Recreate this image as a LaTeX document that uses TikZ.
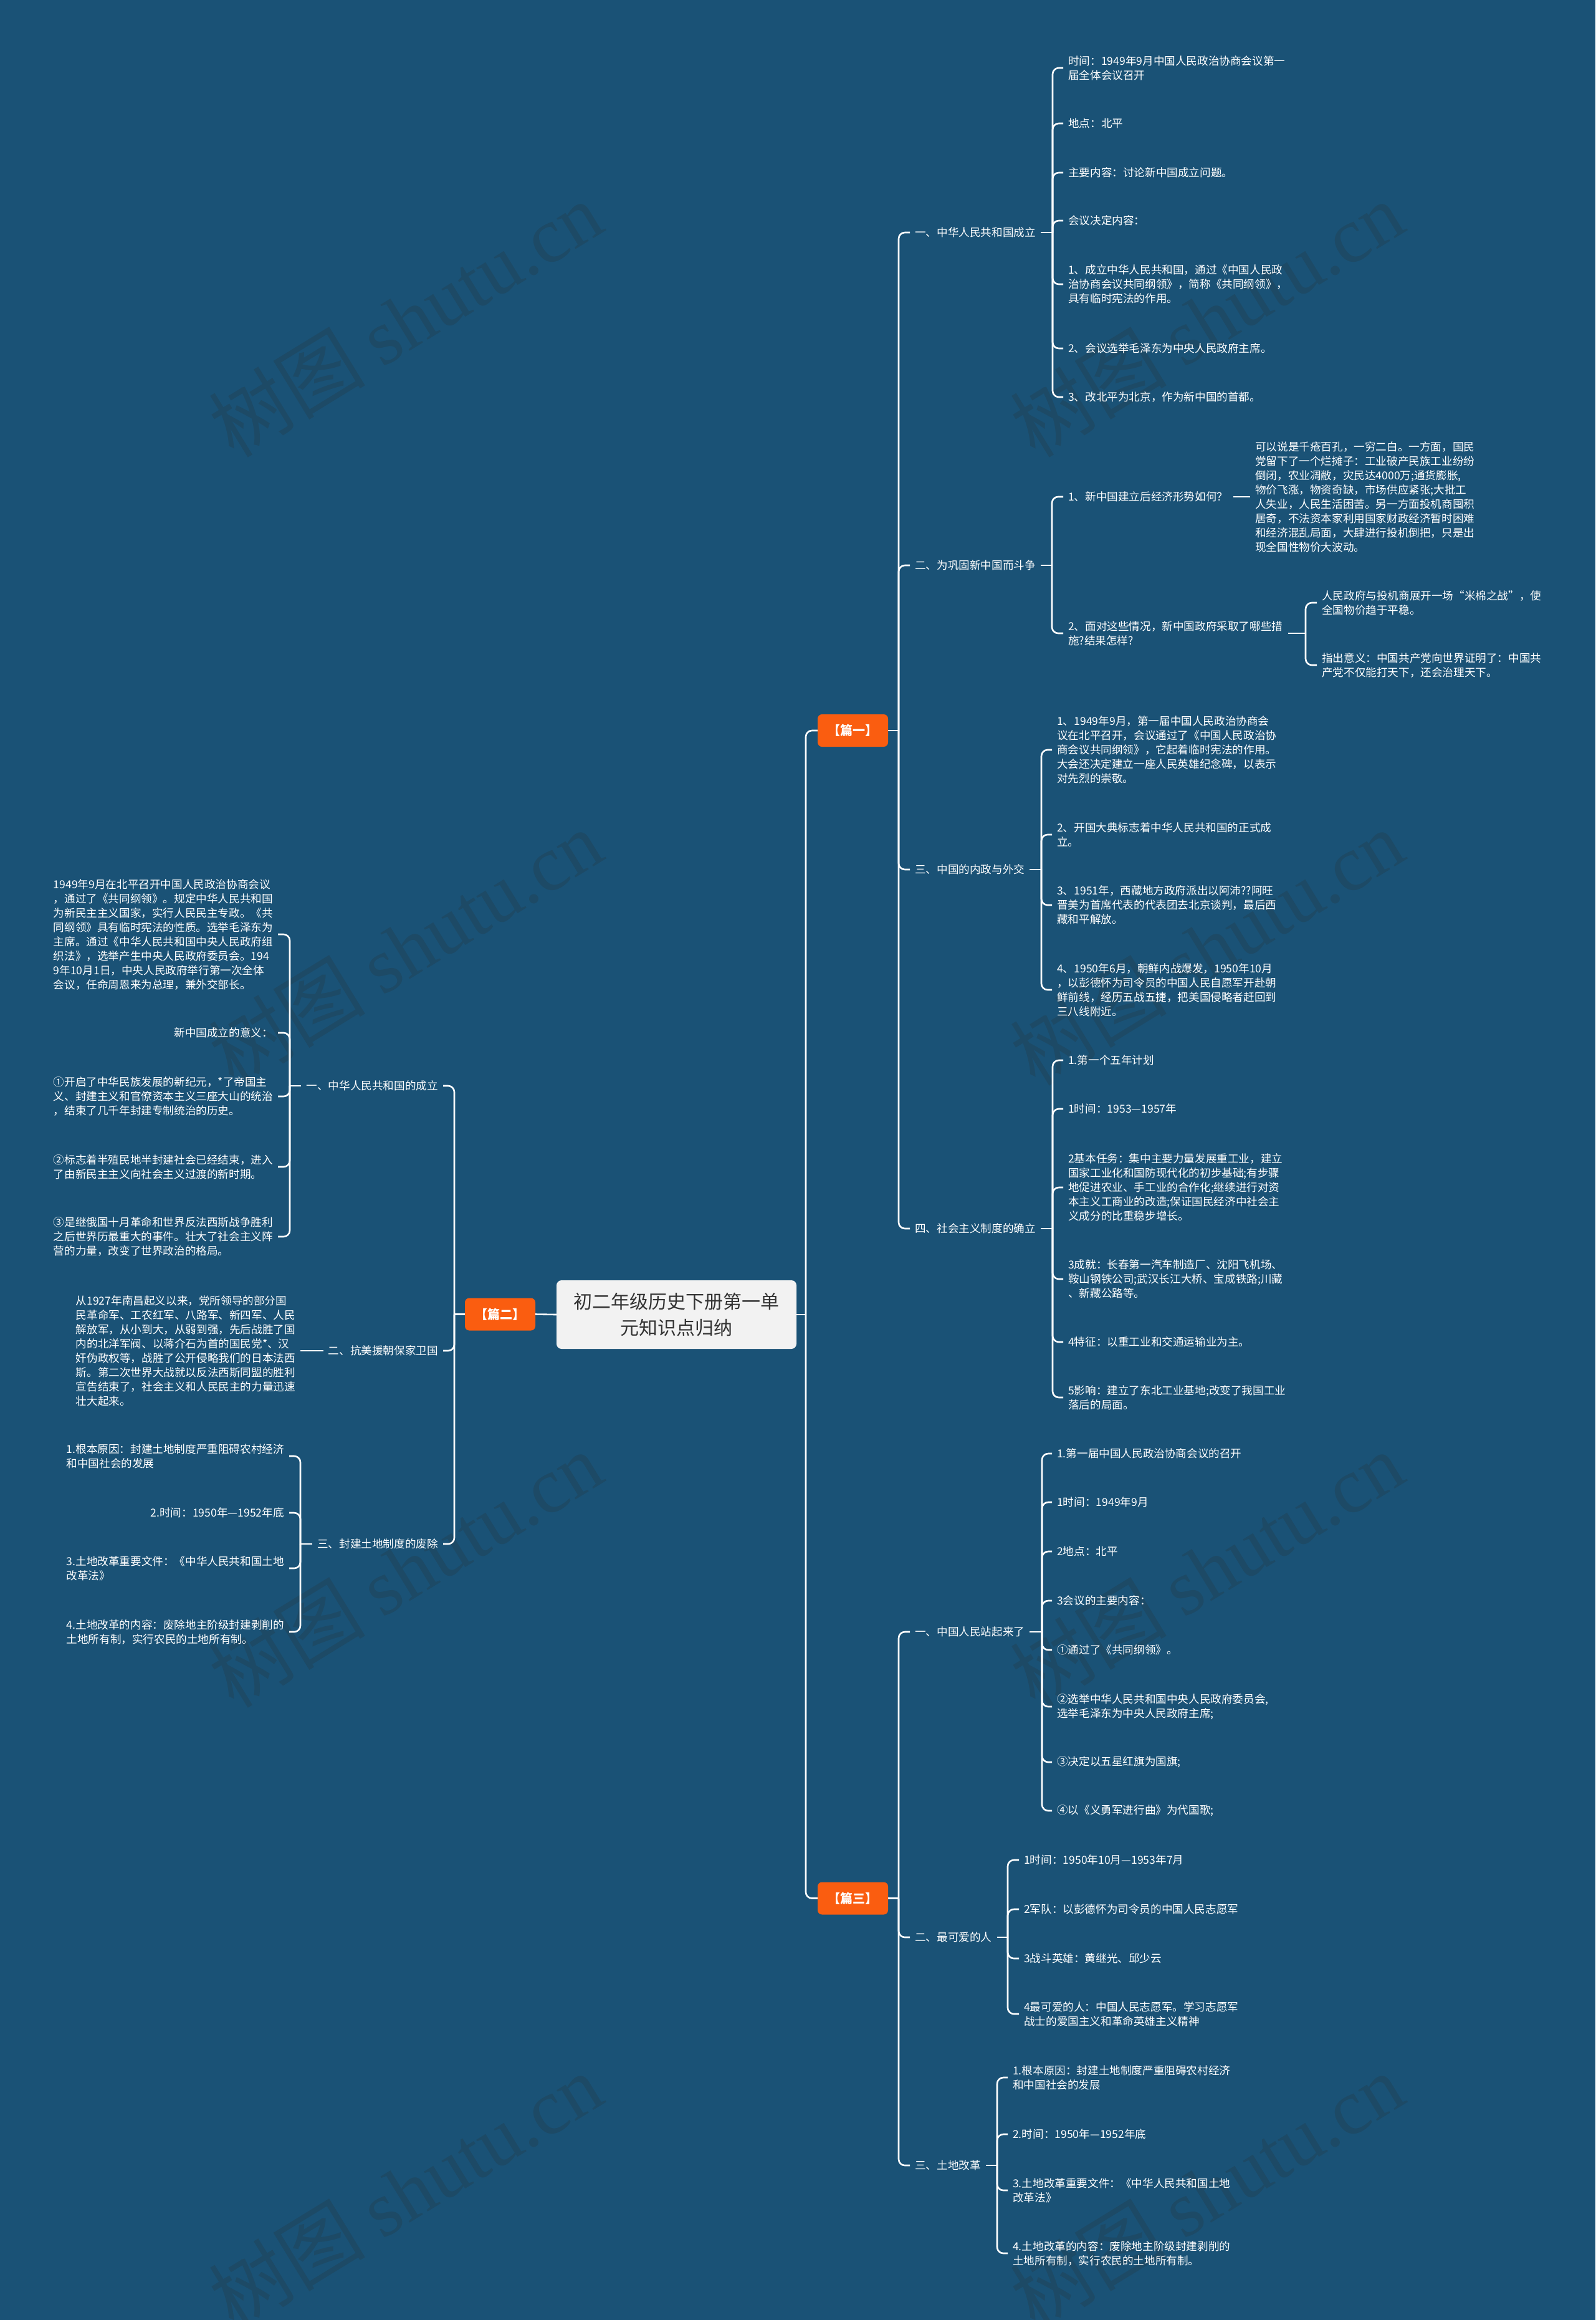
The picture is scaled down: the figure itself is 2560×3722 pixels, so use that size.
\documentclass[tikz,border=0pt]{standalone}
\usepackage{fontspec}
\setmainfont{Noto Sans CJK SC}
\newfontfamily\wmserif{Liberation Serif}
\definecolor{bgc}{HTML}{1A5276}
\definecolor{orgc}{HTML}{FA5D10}
\definecolor{ttlfill}{HTML}{F2F2F2}
\definecolor{ttltext}{HTML}{333333}
\definecolor{wmcol}{HTML}{1D4A66}
\newcommand\rbr[3]{%
  \coordinate (bxc) at (#2,0);
  \draw[conn] (#1.east) -- (#1.east -| bxc);
  \foreach \c in {#3} {\draw[conn] (#1.east -| bxc) |- (\c.west);}
}
\newcommand\lbr[3]{%
  \coordinate (bxc) at (#2,0);
  \draw[conn] (#1.west) -- (#1.west -| bxc);
  \foreach \c in {#3} {\draw[conn] (#1.west -| bxc) |- (\c.east);}
}
\tikzset{
  conn/.style={draw=white, line width=2.6pt, rounded corners=10pt},
  txt/.style={text=white, font=\fontsize{17.6}{23}\selectfont, align=left, inner xsep=8pt, inner ysep=2pt},
  rt/.style={txt, anchor=west},
  lt/.style={txt, anchor=east},
  pian/.style={fill=orgc, rounded corners=7pt, minimum width=113pt, minimum height=52pt, text=white, font=\fontsize{20}{24}\selectfont\bfseries, inner sep=0pt},
  ttl/.style={fill=ttlfill, rounded corners=8pt, minimum width=385pt, minimum height=110pt, text=ttltext, font=\fontsize{30}{42}\selectfont, align=center, inner sep=0pt},
  wm/.style={text=wmcol, rotate=31.5, font=\fontsize{126}{130}\selectfont}
}
\begin{document}
\begin{tikzpicture}[x=1pt,y=-1pt]
\useasboundingbox (0,0) rectangle (2560,3722);
\fill[bgc] (0,0) rectangle (2560,3722);
% watermarks
\foreach \wx in {650,1936} {
  \foreach \wy in {512,1520,2518,3515} {
    \node[wm] (wm) at (\wx,\wy) {树图 {\wmserif shutu.cn}};
  }
}
% central and section boxes
\node[ttl] (T) at (1085.5,2109) {初二年级历史下册第一单\\元知识点归纳};
\node[pian] (P1) at (1368.5,1172) {【篇一】};
\node[pian] (P2) at (802.5,2108.5) {【篇二】};
\node[pian] (P3) at (1368.5,3045.5) {【篇三】};

% ---------- 篇一 ----------
\node[rt] (s11) at (1460,373) {一、中华人民共和国成立};
\node[rt] (s12) at (1460,907) {二、为巩固新中国而斗争};
\node[rt] (s13) at (1460,1395) {三、中国的内政与外交};
\node[rt] (s14) at (1460,1971) {四、社会主义制度的确立};

\node[rt] (c111) at (1706,109) {时间：1949年9月中国人民政治协商会议第一\\届全体会议召开};
\node[rt] (c112) at (1706,198) {地点：北平};
\node[rt] (c113) at (1706,277) {主要内容：讨论新中国成立问题。};
\node[rt] (c114) at (1706,354) {会议决定内容：};
\node[rt] (c115) at (1706,456) {1、成立中华人民共和国，通过《中国人民政\\治协商会议共同纲领》，简称《共同纲领》，\\具有临时宪法的作用。};
\node[rt] (c116) at (1706,559) {2、会议选举毛泽东为中央人民政府主席。};
\node[rt] (c117) at (1706,637) {3、改北平为北京，作为新中国的首都。};

\node[rt] (c121) at (1706,797) {1、新中国建立后经济形势如何？};
\node[rt] (c1211) at (2006,797) {可以说是千疮百孔，一穷二白。一方面，国民\\党留下了一个烂摊子：工业破产民族工业纷纷\\倒闭，农业凋敝，灾民达4000万;通货膨胀,\\物价飞涨，物资奇缺，市场供应紧张;大批工\\人失业，人民生活困苦。另一方面投机商囤积\\居奇，不法资本家利用国家财政经济暂时困难\\和经济混乱局面，大肆进行投机倒把，只是出\\现全国性物价大波动。};
\node[rt] (c122) at (1706,1016) {2、面对这些情况，新中国政府采取了哪些措\\施?结果怎样?};
\node[rt] (c1221) at (2113,967) {人民政府与投机商展开一场“米棉之战”，使\\全国物价趋于平稳。};
\node[rt] (c1222) at (2113,1067) {指出意义：中国共产党向世界证明了：中国共\\产党不仅能打天下，还会治理天下。};

\node[rt] (c131) at (1688,1203) {1、1949年9月，第一届中国人民政治协商会\\议在北平召开，会议通过了《中国人民政治协\\商会议共同纲领》，它起着临时宪法的作用。\\大会还决定建立一座人民英雄纪念碑，以表示\\对先烈的崇敬。};
\node[rt] (c132) at (1688,1339) {2、开国大典标志着中华人民共和国的正式成\\立。};
\node[rt] (c133) at (1688,1452) {3、1951年，西藏地方政府派出以阿沛??阿旺\\晋美为首席代表的代表团去北京谈判，最后西\\藏和平解放。};
\node[rt] (c134) at (1688,1588) {4、1950年6月，朝鲜内战爆发，1950年10月\\，以彭德怀为司令员的中国人民自愿军开赴朝\\鲜前线，经历五战五捷，把美国侵略者赶回到\\三八线附近。};

\node[rt] (c141) at (1706,1701) {1.第一个五年计划};
\node[rt] (c142) at (1706,1779) {1时间：1953—1957年};
\node[rt] (c143) at (1706,1905) {2基本任务：集中主要力量发展重工业，建立\\国家工业化和国防现代化的初步基础;有步骤\\地促进农业、手工业的合作化;继续进行对资\\本主义工商业的改造;保证国民经济中社会主\\义成分的比重稳步增长。};
\node[rt] (c144) at (1706,2052) {3成就：长春第一汽车制造厂、沈阳飞机场、\\鞍山钢铁公司;武汉长江大桥、宝成铁路;川藏\\、新藏公路等。};
\node[rt] (c145) at (1706,2153) {4特征：以重工业和交通运输业为主。};
\node[rt] (c146) at (1706,2242) {5影响：建立了东北工业基地;改变了我国工业\\落后的局面。};

% ---------- 篇三 ----------
\node[rt] (s31) at (1460,2618) {一、中国人民站起来了};
\node[rt] (s32) at (1460,3108) {二、最可爱的人};
\node[rt] (s33) at (1460,3474) {三、土地改革};

\node[rt] (c311) at (1688,2332) {1.第一届中国人民政治协商会议的召开};
\node[rt] (c312) at (1688,2410) {1时间：1949年9月};
\node[rt] (c313) at (1688,2489) {2地点：北平};
\node[rt] (c314) at (1688,2568) {3会议的主要内容：};
\node[rt] (c315) at (1688,2647) {①通过了《共同纲领》。};
\node[rt] (c316) at (1688,2738) {②选举中华人民共和国中央人民政府委员会,\\选举毛泽东为中央人民政府主席;};
\node[rt] (c317) at (1688,2827) {③决定以五星红旗为国旗;};
\node[rt] (c318) at (1688,2905) {④以《义勇军进行曲》为代国歌;};

\node[rt] (c321) at (1635,2984) {1时间：1950年10月—1953年7月};
\node[rt] (c322) at (1635,3063) {2军队：以彭德怀为司令员的中国人民志愿军};
\node[rt] (c323) at (1635,3142) {3战斗英雄：黄继光、邱少云};
\node[rt] (c324) at (1635,3231) {4最可爱的人：中国人民志愿军。学习志愿军\\战士的爱国主义和革命英雄主义精神};

\node[rt] (c331) at (1617,3333) {1.根本原因：封建土地制度严重阻碍农村经济\\和中国社会的发展};
\node[rt] (c332) at (1617,3424) {2.时间：1950年—1952年底};
\node[rt] (c333) at (1617,3514) {3.土地改革重要文件：《中华人民共和国土地\\改革法》};
\node[rt] (c334) at (1617,3615) {4.土地改革的内容：废除地主阶级封建剥削的\\土地所有制，实行农民的土地所有制。};

% ---------- 篇二 ----------
\node[lt] (s21) at (711,1742) {一、中华人民共和国的成立};
\node[lt] (s22) at (711,2167) {二、抗美援朝保家卫国};
\node[lt] (s23) at (711,2477) {三、封建土地制度的废除};

\node[lt] (c211) at (446,1499) {1949年9月在北平召开中国人民政治协商会议\\，通过了《共同纲领》。规定中华人民共和国\\为新民主主义国家，实行人民民主专政。《共\\同纲领》具有临时宪法的性质。选举毛泽东为\\主席。通过《中华人民共和国中央人民政府组\\织法》，选举产生中央人民政府委员会。194\\9年10月1日，中央人民政府举行第一次全体\\会议，任命周恩来为总理，兼外交部长。};
\node[lt] (c212) at (446,1657) {新中国成立的意义：};
\node[lt] (c213) at (446,1759) {①开启了中华民族发展的新纪元，*了帝国主\\义、封建主义和官僚资本主义三座大山的统治\\，结束了几千年封建专制统治的历史。};
\node[lt] (c214) at (446,1872) {②标志着半殖民地半封建社会已经结束，进入\\了由新民主主义向社会主义过渡的新时期。};
\node[lt] (c215) at (446,1984) {③是继俄国十月革命和世界反法西斯战争胜利\\之后世界历最重大的事件。壮大了社会主义阵\\营的力量，改变了世界政治的格局。};

\node[lt] (c221) at (482,2167) {从1927年南昌起义以来，党所领导的部分国\\民革命军、工农红军、八路军、新四军、人民\\解放军，从小到大，从弱到强，先后战胜了国\\内的北洋军阀、以蒋介石为首的国民党*、汉\\奸伪政权等，战胜了公开侵略我们的日本法西\\斯。第二次世界大战就以反法西斯同盟的胜利\\宣告结束了，社会主义和人民民主的力量迅速\\壮大起来。};

\node[lt] (c231) at (464,2336) {1.根本原因：封建土地制度严重阻碍农村经济\\和中国社会的发展};
\node[lt] (c232) at (464,2427) {2.时间：1950年—1952年底};
\node[lt] (c233) at (464,2516) {3.土地改革重要文件：《中华人民共和国土地\\改革法》};
\node[lt] (c234) at (464,2618) {4.土地改革的内容：废除地主阶级封建剥削的\\土地所有制，实行农民的土地所有制。};

% ---------- connectors ----------
\rbr{T}{1293}{P1,P3}
\draw[conn] (P2.east) -- (T.west);
\rbr{P1}{1442}{s11,s12,s13,s14}
\rbr{P3}{1442}{s31,s32,s33}
\lbr{P2}{729}{s21,s22,s23}

\rbr{s11}{1689}{c111,c112,c113,c114,c115,c116,c117}
\rbr{s12}{1688}{c121,c122}
\draw[conn] (c121.east) -- (c1211.west);
\rbr{c122}{2095}{c1221,c1222}
\rbr{s13}{1671}{c131,c132,c133,c134}
\rbr{s14}{1689}{c141,c142,c143,c144,c145,c146}

\rbr{s31}{1672}{c311,c312,c313,c314,c315,c316,c317,c318}
\rbr{s32}{1617}{c321,c322,c323,c324}
\rbr{s33}{1600}{c331,c332,c333,c334}

\lbr{s21}{465}{c211,c212,c213,c214,c215}
\draw[conn] (s22.west) -- (c221.east);
\lbr{s23}{482}{c231,c232,c233,c234}
\end{tikzpicture}
\end{document}
